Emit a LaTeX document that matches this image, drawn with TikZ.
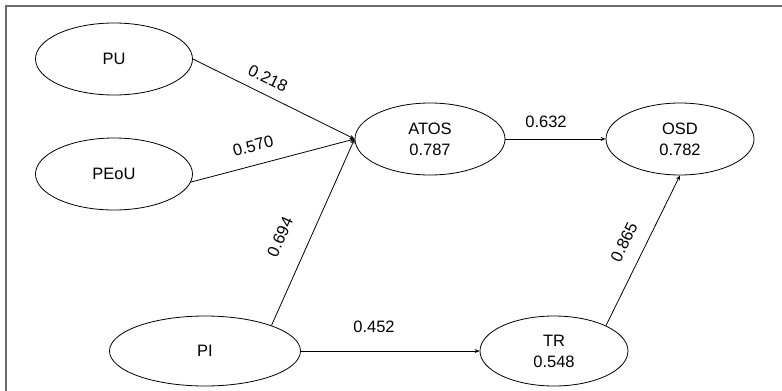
\documentclass[tikz,border=0pt]{standalone}
\usepackage{fontspec}
\setmainfont{Liberation Sans}
\usetikzlibrary{shapes.geometric,arrows.meta}
\begin{document}
\begin{tikzpicture}[x=1pt,y=-1pt,
  font=\fontsize{16.5}{21}\selectfont,
  latent/.style={draw, ellipse, line width=0.8pt, inner sep=0pt, align=center},
  path/.style={line width=0.8pt, -{Stealth[length=5pt,width=4pt]}},
  coef/.style={inner sep=0pt},
  frameline/.style={draw=black!58, line width=2pt}]
\useasboundingbox (0,0) rectangle (782,391);
\draw[frameline] (782,6) -- (6,6) -- (6,391);

\node[latent, minimum width=157pt, minimum height=72pt] (PU) at (114,59) {PU};
\node[latent, minimum width=157pt, minimum height=72pt] (PEoU) at (114,174) {PEoU};
\node[latent, minimum width=191pt, minimum height=70pt] (PI) at (205,351) {PI};
\node[latent, minimum width=150pt, minimum height=72pt] (ATOS) at (430,139) {ATOS\\0.787};
\node[latent, minimum width=148pt, minimum height=72pt] (OSD) at (680,139) {OSD\\0.782};
\node[latent, minimum width=148pt, minimum height=70pt] (TR) at (554,351) {TR\\0.548};

\draw[path] (PU.east) -- (ATOS.west);
\draw[path] (PEoU.-6) -- (ATOS.west);
\draw[path] (PI.21) -- (ATOS.west);
\draw[path] (ATOS.east) -- (OSD.west);
\draw[path] (PI.east) -- (TR.west);
\draw[path] (TR.26) -- (OSD.south);

\node[coef, rotate=-26] (l1) at (268,78) {0.218};
\node[coef, rotate=15] (l2) at (253,146) {0.570};
\node[coef, rotate=66] (l3) at (280,237) {0.694};
\node[coef] (l4) at (546,122) {0.632};
\node[coef] (l5) at (374,327) {0.452};
\node[coef, rotate=64] (l6) at (624,242) {0.865};
\end{tikzpicture}
\end{document}
